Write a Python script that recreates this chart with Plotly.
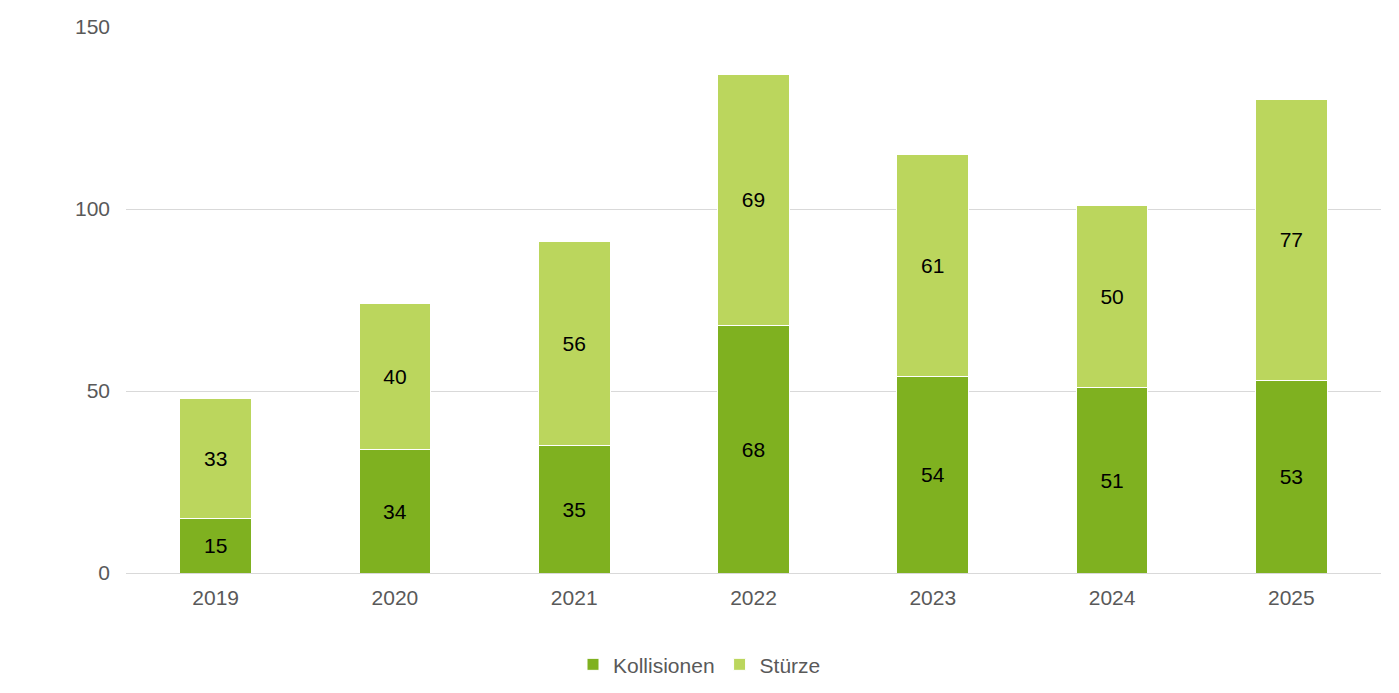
import plotly.graph_objects as go

years = ["2019", "2020", "2021", "2022", "2023", "2024", "2025"]
kollisionen = [15, 34, 35, 68, 54, 51, 53]
stuerze = [33, 40, 56, 69, 61, 50, 77]

fig = go.Figure()

fig.add_trace(go.Bar(x=years, y=kollisionen, name="Kollisionen",
                     marker=dict(color="#7FB120", line=dict(color="white", width=1)),
                     text=kollisionen, textposition="inside", insidetextanchor="middle",
                     textfont=dict(color="black", size=21)))
fig.add_trace(go.Bar(x=years, y=stuerze, name="Stürze",
                     marker=dict(color="#BBD65D", line=dict(color="white", width=1)),
                     text=stuerze, textposition="inside", insidetextanchor="middle",
                     textfont=dict(color="black", size=21)))

# page body has an 8px margin, so margins are shifted to line up with the target
fig.update_layout(
    barmode="stack", bargap=0.6,
    plot_bgcolor="white", paper_bgcolor="white",
    font=dict(family="Liberation Sans, Arial", size=21, color="#595959"),
    margin=dict(l=118, r=10, t=19, b=112, autoexpand=False),
    legend=dict(orientation="h", xref="container", x=0.5, xanchor="center",
                yref="container", y=0.03, yanchor="middle",
                font=dict(size=21, color="#595959"), traceorder="normal",
                itemwidth=30),
    uniformtext=dict(mode="show", minsize=21),
)
fig.update_xaxes(showline=True, linecolor="#D9D9D9", ticks="", automargin=False,
                 ticklabelstandoff=6)
fig.update_yaxes(range=[0, 150], dtick=50, gridcolor="#D9D9D9", zeroline=False,
                 ticklabelstandoff=15, automargin=False)

fig.write_html("out.html")
